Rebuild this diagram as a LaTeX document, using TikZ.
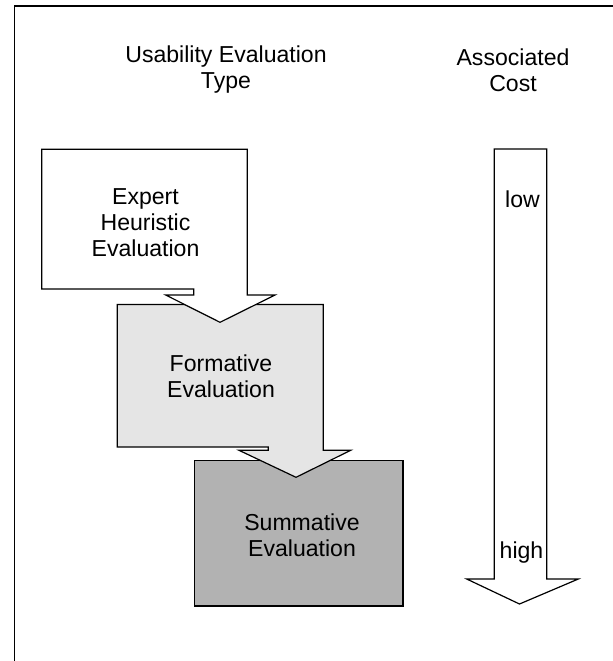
\documentclass[tikz,border=0pt]{standalone}
\usepackage{fontspec}
\setmainfont{Liberation Sans}
\begin{document}
\begin{tikzpicture}[x=0.75pt,y=-0.75pt,line width=0.9pt,
    label/.style={font=\fontsize{17.3}{19.5}\selectfont,align=center,inner sep=0pt},
    box/.style={draw,line join=miter}]
\useasboundingbox (0,0) rectangle (613,661);
\draw[line width=1.2pt] (14.3,661) -- (14.3,5.7) -- (613,5.7);

\node[label] (type) at (226,70) {Usability Evaluation\\Type};
\node[label] (cost) at (513,70) {Associated\\Cost};

% stages, last one first so the arrows lie on top
\draw[box,fill=black!30] (194.8,460.3) rectangle (403,606);
\draw[box,fill=black!10] (117.3,304.5) -- (323.3,304.5) -- (323.3,450.3) -- (350.7,450.3) -- (296,477.3)
    -- (239,450.3) -- (268.3,450.3) -- (268.3,447) -- (117.3,447) -- cycle;
\draw[box,fill=white] (41.7,149.3) -- (247.3,149.3) -- (247.3,295) -- (275,295) -- (220,322.3)
    -- (165.7,295) -- (193.7,295) -- (193.7,289) -- (41.7,289) -- cycle;

\node[label] (expert) at (145.5,222.5) {Expert\\Heuristic\\Evaluation};
\node[label] (formative) at (221,376) {Formative\\Evaluation};
\node[label] (summative) at (302,535.5) {Summative\\Evaluation};

% cost arrow
\draw[box,fill=white] (494.3,149) -- (546.7,149) -- (546.7,579) -- (578.3,579) -- (519.5,604)
    -- (466.7,579) -- (494.3,579) -- cycle;
\node[label] (low) at (522.5,199) {low};
\node[label] (high) at (521.5,553) {high};

\end{tikzpicture}
\end{document}
